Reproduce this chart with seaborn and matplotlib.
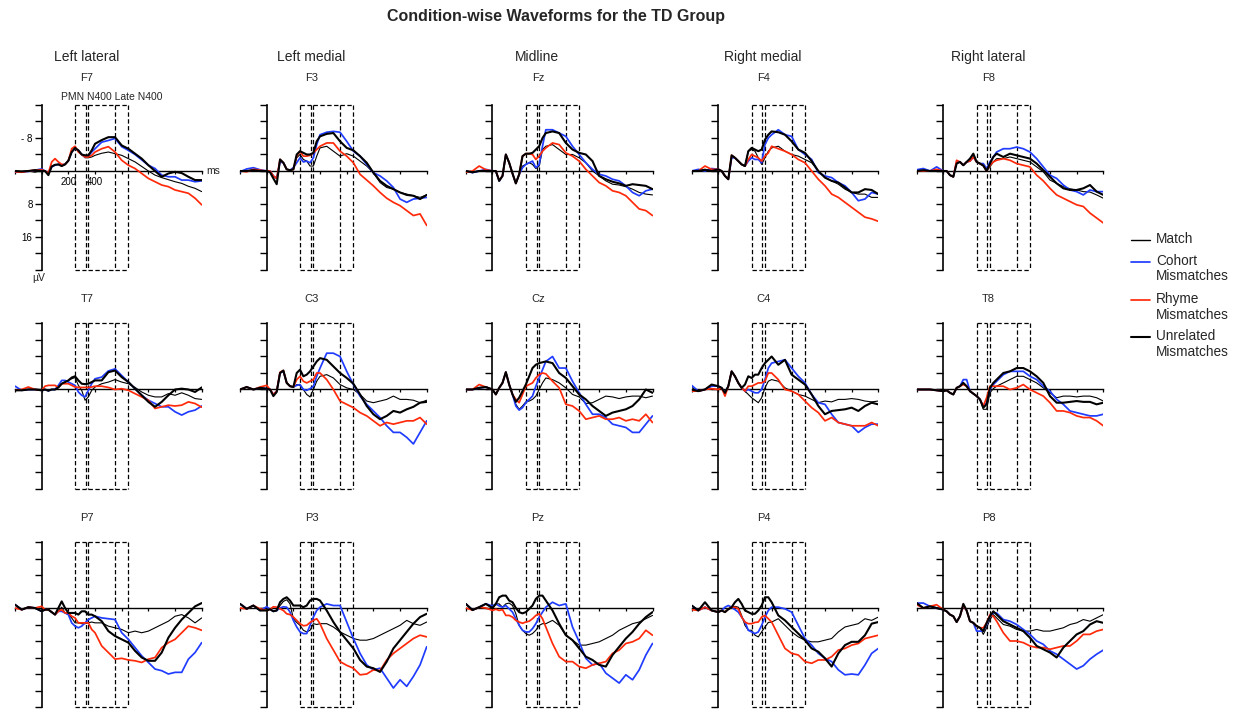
import matplotlib
matplotlib.use("Agg")
import matplotlib.pyplot as plt
import seaborn as sns
from matplotlib.lines import Line2D

# ---------------- data (µV, negative plotted upward) ----------------
TIMES = [-200, -150, -100, -50, 0,
         25, 50, 75, 100, 125, 150, 175, 200, 225, 250, 275, 300, 325, 350, 375, 400,
         450, 500, 550, 600, 650, 700, 750, 800, 850, 900, 950, 1000, 1050, 1100, 1150, 1200]

F7_match = [0.0, 0.2, 0.0, 0.3, -0.3, 0.0, 0.8, -1.1, -1.5, -1.6, -1.2, -1.6, -2.5, -4.6, -5.5, -5.0, -4.0, -3.2, -3.2, -3.4, -3.8, -4.3, -4.6, -4.2, -3.8, -3.0, -2.2, -1.1, 0.0, 1.0, 1.6, 2.1, 2.6, 3.0, 3.7, 4.2, 5.0]
F7_cohort = [0.3, 0.2, 0.1, -0.2, -0.5, 0.0, 0.5, -1.0, -1.4, -1.6, -1.5, -1.6, -2.5, -4.6, -5.5, -5.0, -4.0, -3.4, -3.6, -4.6, -5.4, -7.0, -7.4, -7.9, -5.9, -5.0, -4.0, -2.7, -1.4, -0.6, 1.0, 1.4, 1.4, 2.2, 2.2, 2.6, 2.4]
F7_rhyme = [0.2, 0.3, 0.0, -0.2, -0.3, 0.0, 0.5, -2.2, -3.0, -2.2, -1.6, -1.6, -2.5, -5.4, -6.0, -4.6, -4.0, -3.4, -3.4, -3.8, -4.6, -5.4, -5.9, -4.6, -2.6, -1.4, -0.6, 0.6, 1.8, 2.6, 3.4, 3.8, 4.6, 5.0, 5.4, 6.6, 8.2]
F7_unrel = [0.0, 0.1, 0.0, -0.2, 0.0, 0.0, 1.0, -1.1, -1.5, -1.6, -1.2, -1.6, -2.5, -4.6, -5.6, -5.0, -4.0, -3.8, -3.8, -5.0, -6.6, -7.5, -8.2, -8.2, -6.2, -5.4, -4.2, -3.0, -1.4, 0.0, 1.4, 0.6, 0.2, 0.5, 1.4, 2.2, 2.2]

F3_match = [0.0, 0.0, -0.3, 0.0, 0.0, 0.0, 1.2, 1.8, -2.6, -2.0, -0.4, -0.2, -0.4, -3.2, -4.0, -2.8, -2.4, -1.2, -1.2, -3.6, -5.6, -6.0, -4.8, -3.6, -4.2, -3.6, -2.4, -1.2, 0.4, 2.8, 4.0, 4.4, 5.2, 5.6, 6.0, 6.4, 5.8]
F3_cohort = [0.2, -0.5, -0.8, -0.3, 0.0, 0.0, 1.2, 1.8, -2.2, -2.0, -0.4, -0.2, -0.8, -2.0, -3.2, -2.2, -2.4, -2.0, -3.2, -6.4, -8.8, -9.4, -9.6, -9.4, -7.2, -4.8, -3.6, -1.6, 0.4, 1.2, 2.4, 4.0, 6.8, 7.6, 6.8, 6.6, 6.4]
F3_rhyme = [0.0, 0.2, -0.4, -0.2, 0.0, 0.0, 1.2, 1.8, -2.8, -2.0, -0.4, -0.2, -0.4, -3.6, -4.8, -3.6, -3.6, -3.8, -4.4, -5.2, -6.0, -6.8, -6.8, -4.8, -3.6, -2.0, 0.8, 2.2, 3.6, 5.2, 6.6, 7.6, 8.4, 9.6, 10.8, 10.4, 13.2]
F3_unrel = [0.0, 0.0, -0.2, 0.0, 0.0, 0.3, 1.8, 3.2, -2.8, -2.0, -0.4, -0.2, -0.4, -4.0, -4.8, -4.4, -4.0, -4.0, -4.4, -7.2, -8.4, -9.0, -9.2, -7.2, -5.6, -5.0, -3.6, -2.0, 0.4, 2.4, 3.6, 4.4, 5.2, 5.8, 6.0, 6.8, 5.8]

Fz_match = [0.0, 0.4, 0.0, 0.0, 0.0, 0.0, 2.4, 1.2, -4.0, -2.0, 0.6, 3.0, 0.8, -1.2, -1.6, -2.0, -1.6, -0.6, -1.2, -5.2, -6.0, -6.4, -5.2, -4.0, -4.0, -3.2, -2.0, 0.0, 1.2, 2.4, 3.2, 3.4, 3.8, 4.4, 5.2, 5.6, 5.8]
Fz_cohort = [0.0, 0.4, 0.0, -0.4, 0.0, 0.0, 2.4, 1.2, -4.0, -2.0, 0.6, 3.0, 0.8, -0.8, -1.6, -2.0, -2.4, -0.8, -1.6, -6.0, -10.0, -10.0, -9.2, -8.4, -6.0, -4.0, -2.0, -0.4, 0.8, 1.2, 2.0, 2.4, 3.6, 5.2, 6.0, 4.8, 4.4]
Fz_rhyme = [0.3, 0.0, -1.2, -0.3, 0.0, 0.0, 2.2, 1.2, -4.0, -2.0, 0.6, 3.0, 0.8, -3.6, -4.2, -4.2, -4.0, -2.8, -3.6, -4.8, -5.6, -6.8, -6.4, -4.4, -3.6, -2.4, -0.4, 1.2, 2.8, 3.6, 4.8, 5.2, 6.0, 7.6, 9.2, 9.6, 10.8]
Fz_unrel = [0.0, 0.3, 0.0, 0.0, 0.0, 0.0, 2.4, 1.2, -4.0, -2.0, 0.6, 3.0, 0.8, -3.6, -4.2, -4.2, -4.4, -5.2, -6.0, -8.0, -9.2, -9.6, -9.2, -6.8, -5.2, -4.4, -4.0, -2.4, 1.2, 2.0, 2.6, 3.0, 3.6, 3.2, 3.4, 3.6, 4.4]

F4_match = [0.0, 0.0, -0.4, 0.0, -0.4, 0.0, 1.2, 2.0, -3.6, -3.2, -2.4, -1.6, -1.2, -4.8, -5.2, -4.8, -3.2, -1.6, -3.2, -4.8, -5.6, -6.0, -4.8, -4.0, -3.6, -2.8, -2.0, 0.0, 1.6, 2.4, 3.2, 4.4, 5.2, 5.6, 5.6, 6.4, 6.4]
F4_cohort = [0.0, -0.4, 0.0, -0.6, -0.4, 0.0, 1.2, 2.0, -3.2, -3.2, -2.4, -1.6, -1.2, -2.4, -3.2, -2.8, -2.8, -2.0, -6.4, -8.0, -8.8, -10.0, -8.8, -8.4, -5.2, -4.0, -2.8, 0.4, 1.2, 1.6, 2.8, 3.6, 5.2, 7.2, 6.8, 5.2, 5.6]
F4_rhyme = [0.0, 0.0, -1.2, -0.4, -0.4, 0.0, 1.2, 2.0, -3.8, -3.2, -2.4, -1.6, -1.2, -2.8, -4.0, -3.6, -3.2, -2.4, -3.6, -4.4, -6.0, -5.4, -4.8, -4.0, -2.8, -2.0, 0.0, 2.0, 3.6, 5.6, 6.4, 7.6, 8.8, 10.0, 11.2, 11.6, 12.2]
F4_unrel = [0.0, 0.0, -0.3, 0.0, -0.4, 0.0, 1.2, 2.0, -3.8, -3.2, -2.4, -1.6, -1.2, -4.8, -5.6, -5.2, -4.8, -5.2, -7.6, -8.8, -9.6, -9.4, -8.8, -7.2, -5.2, -4.4, -2.4, 0.0, 1.6, 2.4, 2.8, 4.0, 5.2, 5.2, 4.4, 4.6, 5.6]

F8_match = [0.0, 0.0, 0.0, 0.0, 0.0, 0.0, 1.0, 1.4, -1.8, -2.2, -1.4, -2.2, -2.4, -3.4, -2.2, -1.8, -1.3, 0.0, -1.0, -2.2, -3.0, -3.0, -3.4, -3.0, -2.6, -2.2, -1.0, 0.2, 2.2, 3.0, 3.8, 4.3, 4.6, 5.0, 5.1, 5.8, 6.6]
F8_cohort = [-0.3, -0.6, 0.0, -1.0, 0.0, 0.0, 1.0, 1.4, -2.2, -2.2, -1.4, -2.2, -2.4, -3.4, -2.2, -1.8, -1.8, -0.6, -2.2, -3.4, -4.6, -5.4, -5.4, -5.8, -5.4, -4.6, -3.0, -1.0, 1.0, 1.8, 3.4, 4.6, 5.0, 5.8, 4.6, 5.0, 5.0]
F8_rhyme = [0.0, 0.0, 0.0, -0.4, 0.0, 0.0, 1.0, 1.4, -2.6, -2.2, -1.4, -2.2, -2.4, -3.4, -2.2, -1.8, -1.3, 0.0, -1.4, -2.2, -2.6, -3.0, -2.6, -1.8, -1.4, -1.0, 1.0, 2.4, 4.2, 5.8, 6.6, 7.4, 8.2, 8.6, 10.2, 11.4, 12.6]
F8_unrel = [0.0, -0.2, 0.0, 0.0, 0.0, 0.0, 1.0, 1.4, -1.8, -2.2, -1.4, -2.2, -3.0, -4.2, -2.2, -1.8, -1.3, 0.0, -1.8, -3.4, -4.2, -3.4, -4.2, -3.8, -3.4, -3.0, -1.8, -0.2, 1.4, 3.0, 4.2, 4.6, 4.6, 4.2, 3.4, 5.0, 5.8]

T7_match = [0.2, 0.2, 0.0, 0.0, 0.2, 0.0, 0.3, 0.0, 0.0, -0.5, -1.4, -1.8, -2.2, -2.6, -2.9, -1.0, 0.2, 2.6, 1.8, 0.2, -0.6, -1.4, -1.8, -2.4, -1.8, -1.4, -0.5, 0.6, 1.4, 1.8, 1.8, 1.0, 1.4, 0.8, 1.4, 2.2, 2.4]
T7_cohort = [-0.8, 0.2, 0.0, 0.0, 0.2, 0.0, 0.3, 0.0, 0.0, -1.0, -2.2, -2.2, -1.8, -1.4, -1.0, 0.6, 1.4, 1.8, 0.2, -1.4, -2.6, -3.0, -4.5, -5.0, -3.4, -1.8, -0.2, 1.4, 2.6, 3.4, 4.2, 4.2, 5.4, 6.2, 5.4, 5.0, 4.0]
T7_rhyme = [0.2, 0.0, -0.6, 0.0, 0.2, -0.8, -1.0, -1.0, -1.0, -0.5, -1.4, -1.4, -1.4, -1.0, -0.6, -0.5, -0.5, -0.5, -0.5, -0.6, -0.8, -0.8, -0.5, 0.0, -0.2, 0.2, 1.0, 1.8, 2.6, 4.6, 4.2, 3.8, 4.0, 3.8, 3.0, 3.4, 4.3]
T7_unrel = [0.2, 0.2, 0.0, 0.0, 0.2, 0.0, 0.3, 0.0, 0.0, -0.5, -1.4, -1.8, -2.2, -2.9, -3.2, -2.2, -1.4, -1.3, -1.4, -1.8, -2.2, -2.2, -4.2, -4.6, -3.0, -1.8, -0.2, 1.4, 3.0, 4.2, 3.0, 1.4, 0.0, -0.2, 0.0, 0.6, -0.5]

C3_match = [0.0, -0.6, 0.0, -0.4, -0.2, 0.0, 1.2, 0.4, -4.0, -4.4, -1.6, -0.8, -0.6, -1.2, -1.0, 0.0, 1.2, 1.8, 0.0, -2.0, -3.2, -3.6, -2.8, -1.2, -0.4, 0.0, 1.2, 2.8, 3.2, 2.8, 2.4, 1.6, 2.4, 2.4, 2.6, 3.2, 2.6]
C3_cohort = [0.0, -0.6, 0.0, -0.4, -0.2, 0.0, 1.2, 0.4, -4.0, -4.4, -1.6, -0.8, -0.6, -1.0, -1.2, 0.0, 0.2, -0.2, -0.8, -3.2, -5.2, -8.8, -8.8, -8.0, -4.4, -1.2, 1.6, 3.6, 5.2, 6.8, 8.8, 10.4, 10.4, 11.6, 13.2, 10.4, 7.6]
C3_rhyme = [0.0, -0.6, 0.0, -0.6, -1.0, 0.0, 1.2, 0.4, -4.2, -4.6, -1.6, -0.8, -0.6, -2.4, -3.2, -2.0, -1.6, -2.0, -2.4, -4.0, -4.0, -2.4, 0.0, 2.8, 3.6, 4.4, 5.6, 6.4, 7.6, 8.8, 8.0, 8.4, 8.0, 7.6, 7.6, 6.8, 8.4]
C3_unrel = [0.0, -0.6, 0.0, -0.4, -0.2, 0.0, 1.6, 0.6, -4.0, -4.6, -1.6, -0.8, -0.6, -4.0, -4.8, -3.2, -3.6, -4.4, -5.6, -6.8, -7.6, -7.2, -5.6, -4.0, -2.8, -1.4, 1.2, 4.0, 6.0, 7.2, 6.4, 5.2, 5.6, 4.8, 4.2, 3.2, 3.0]

Cz_match = [0.0, 0.0, -0.4, -0.6, 0.0, 1.2, -0.4, -1.6, -4.2, -1.2, 1.2, 3.6, 4.8, 4.0, 3.0, 2.8, 2.4, 1.6, 0.0, -1.6, -2.8, -2.4, -1.6, -0.4, 1.2, 1.8, 3.4, 3.2, 2.4, 1.6, 1.8, 2.2, 1.8, 1.6, 1.6, 2.0, 1.6]
Cz_cohort = [0.0, 0.0, -0.4, -0.6, 0.0, 1.2, -0.4, -1.6, -4.2, -1.2, 1.2, 4.0, 5.0, 4.4, 3.2, 2.4, 1.6, -0.8, -2.8, -4.8, -6.8, -8.0, -5.2, -5.2, -2.0, 0.8, 3.6, 6.0, 6.0, 6.8, 8.4, 8.8, 9.2, 10.4, 10.4, 8.4, 6.4]
Cz_rhyme = [0.0, 0.0, -1.2, -0.6, 0.0, 1.2, -0.4, -1.6, -4.2, -1.2, 1.2, 2.4, 3.2, 1.2, -0.8, -1.2, -1.6, -2.8, -3.6, -4.0, -3.8, -2.0, -0.4, 3.6, 4.0, 5.2, 7.2, 6.8, 6.4, 7.2, 7.2, 6.8, 7.6, 7.2, 7.6, 6.0, 8.0]
Cz_unrel = [0.0, 0.0, -0.4, -0.6, 0.0, 1.2, -0.4, -1.6, -4.2, -1.2, 1.2, 3.0, 2.0, 0.4, -1.2, -3.2, -5.2, -6.0, -6.4, -6.6, -6.8, -6.4, -4.0, -2.8, -0.8, 1.2, 2.4, 4.0, 5.2, 6.4, 5.6, 5.2, 4.8, 4.0, 2.4, 0.0, 0.8]

C4_match = [-0.5, 0.4, 0.0, -0.8, -0.8, -0.4, 0.8, -0.8, -4.4, -3.2, -1.6, -0.4, 0.4, 1.2, 2.0, 2.6, 3.2, 2.0, -0.4, -2.0, -2.4, -2.0, -0.4, 0.4, 1.2, 1.6, 2.4, 3.2, 2.8, 3.0, 2.4, 2.4, 2.2, 2.4, 2.8, 3.0, 2.8]
C4_cohort = [-1.0, 0.4, 0.0, -0.8, -0.8, -0.4, 0.8, -0.8, -4.4, -3.2, -1.6, -0.4, 0.4, 0.0, 0.4, 0.8, 0.8, 0.0, -2.4, -5.2, -6.4, -6.8, -7.2, -5.2, -3.2, -1.6, 1.2, 3.2, 3.6, 6.0, 8.0, 8.4, 8.8, 10.4, 9.2, 8.4, 8.4]
C4_rhyme = [0.4, 0.4, 0.0, -0.2, 0.0, -0.4, 1.6, -0.8, -4.4, -3.2, -1.6, -0.4, 0.4, -0.8, -0.8, -1.2, -1.6, -1.6, -2.0, -4.0, -4.0, -2.4, 0.0, 0.4, 1.2, 2.8, 4.4, 5.6, 7.6, 6.8, 8.0, 8.4, 8.8, 8.8, 8.8, 8.0, 8.8]
C4_unrel = [0.0, 0.4, 0.0, -1.2, -0.8, -0.4, 0.8, -0.8, -4.4, -3.2, -1.6, -0.4, -1.2, -3.2, -2.8, -3.6, -3.6, -5.2, -6.4, -7.2, -8.0, -6.0, -7.2, -3.6, -2.4, -1.2, 1.2, 4.0, 6.0, 5.2, 5.0, 4.8, 4.4, 5.2, 4.0, 3.2, 3.6]

T8_match = [0.0, 0.0, 0.0, 0.2, 0.4, 0.2, 0.8, 1.2, -0.4, -0.8, -1.6, -0.8, 0.4, 1.0, 1.6, 2.4, 4.8, 4.8, 0.8, -0.2, -0.8, -1.6, -2.4, -3.2, -3.2, -2.4, -1.6, -0.4, 0.8, 2.0, 1.6, 1.6, 1.8, 1.6, 1.6, 2.0, 2.8]
T8_cohort = [0.0, 0.0, 0.0, 0.2, 0.4, 0.2, 0.8, 1.2, -0.4, -0.8, -2.4, -2.4, 0.4, 1.0, 1.6, 2.4, 4.0, 3.2, 0.0, -1.2, -2.0, -3.6, -4.4, -4.4, -4.4, -3.2, -2.4, -0.8, 0.4, 2.4, 3.6, 5.2, 5.6, 6.0, 6.4, 6.4, 6.0]
T8_rhyme = [0.0, 0.0, 0.0, 0.2, 0.4, 0.2, 0.8, 1.2, -0.4, -0.8, -1.2, -0.8, 0.4, 1.0, 1.6, 2.4, 4.0, 2.0, -0.8, -0.8, -0.8, -0.8, 0.0, -0.4, -1.2, 0.0, 0.8, 1.6, 3.2, 5.2, 5.2, 5.6, 6.4, 6.8, 6.8, 7.6, 8.8]
T8_unrel = [0.0, 0.0, 0.0, 0.2, 0.4, 0.2, 0.8, 1.2, -0.4, -0.8, -1.6, -0.8, 0.4, 1.0, 1.6, 2.4, 4.4, 3.6, -0.4, -1.6, -2.4, -4.0, -4.4, -5.2, -5.2, -4.4, -3.2, -1.6, 1.6, 3.2, 3.2, 3.0, 2.8, 3.0, 3.0, 3.6, 3.2]

P7_match = [-0.8, 0.4, -0.2, 0.0, 0.8, 0.4, 0.4, 1.0, 1.6, 0.8, -0.2, 1.2, 1.6, 2.4, 3.6, 3.6, 3.8, 3.8, 3.6, 3.4, 3.6, 3.6, 4.4, 4.8, 5.2, 6.0, 5.6, 6.0, 5.6, 4.8, 4.0, 3.2, 2.0, 1.6, 2.4, 3.6, 2.4]
P7_cohort = [-0.8, 0.4, -0.2, 0.0, 0.8, 0.4, 0.4, 1.0, 1.6, 0.8, 0.8, 1.2, 1.6, 3.6, 4.4, 4.8, 4.4, 3.6, 2.8, 2.4, 2.0, 2.4, 2.6, 2.8, 6.0, 7.6, 9.6, 11.6, 13.2, 14.8, 15.2, 16.0, 15.6, 15.6, 12.4, 10.8, 8.4]
P7_rhyme = [0.0, 0.4, -0.2, 0.0, -0.4, 0.4, 0.4, 1.0, 1.6, 0.8, 0.4, 1.2, 1.2, 2.0, 2.4, 3.6, 3.6, 3.6, 3.6, 5.2, 6.0, 9.2, 10.8, 12.4, 12.2, 12.6, 12.8, 13.2, 12.4, 12.0, 9.6, 8.4, 7.6, 6.0, 4.4, 4.8, 5.4]
P7_unrel = [-0.8, 0.4, -0.2, 0.0, 0.8, 0.4, 0.4, 1.0, 1.6, 0.0, -1.6, 0.0, 1.2, 1.2, 1.2, 1.6, 0.8, 0.8, 1.6, 1.6, 2.0, 3.2, 5.6, 6.8, 7.6, 8.4, 10.4, 12.0, 12.8, 12.8, 10.8, 7.2, 4.8, 2.8, 1.2, -0.4, -1.2]

P3_match = [-1.0, 0.2, -0.6, 0.6, 0.6, 0.3, 0.8, 0.6, -0.6, -1.6, -2.0, -1.0, 2.6, 3.5, 4.2, 5.4, 5.8, 5.4, 3.8, 4.0, 3.8, 3.8, 4.6, 5.8, 6.6, 7.4, 7.8, 7.8, 7.4, 6.6, 5.8, 5.0, 4.2, 3.0, 3.8, 4.2, 3.4]
P3_cohort = [-1.0, 0.2, -0.6, 0.6, -0.3, 0.3, 0.8, 0.6, 0.0, -0.3, -0.2, 1.0, 3.0, 4.6, 5.8, 6.2, 6.2, 4.2, 2.2, 0.6, -0.2, -1.0, -0.6, -0.6, 3.4, 7.4, 11.0, 13.8, 15.0, 14.6, 17.0, 19.4, 17.4, 19.0, 16.6, 13.8, 9.4]
P3_rhyme = [0.0, 0.2, -0.6, 0.2, 0.6, 0.3, -0.3, -0.2, 0.2, 0.6, 1.4, 1.6, 2.2, 3.0, 3.8, 4.3, 4.2, 3.5, 3.0, 2.6, 3.8, 7.4, 10.2, 13.0, 13.9, 14.6, 16.2, 16.0, 15.0, 15.2, 12.6, 11.0, 9.8, 8.6, 7.4, 6.6, 7.0]
P3_unrel = [-1.0, 0.2, -0.6, 0.6, 0.6, 0.3, 0.8, 0.6, -1.4, -2.2, -2.6, -1.8, -0.6, -0.6, -0.6, -0.2, -0.6, -1.8, -2.2, -2.2, -1.8, 0.6, 3.4, 5.8, 7.8, 9.8, 12.6, 14.2, 14.6, 15.5, 13.0, 9.8, 7.8, 5.8, 3.8, 2.2, 1.4]

Pz_match = [-1.0, 0.5, -0.2, -1.0, 0.0, -1.0, -1.0, -0.2, -1.0, -1.2, -0.6, 1.4, 4.2, 5.4, 6.2, 6.6, 6.2, 5.4, 4.2, 3.8, 3.8, 3.0, 4.2, 6.6, 7.8, 9.0, 9.0, 8.6, 8.2, 7.4, 6.6, 5.4, 4.6, 3.8, 3.4, 2.6, 1.8]
Pz_cohort = [-1.0, 0.5, -0.2, -1.0, -0.5, -1.0, -0.5, -0.2, -0.6, 0.2, 1.0, 2.6, 4.2, 5.4, 5.8, 5.8, 5.0, 3.8, 2.2, 1.0, -0.2, -1.4, -0.6, -1.0, 4.6, 8.2, 12.2, 13.8, 13.4, 15.8, 17.0, 18.2, 16.2, 17.4, 15.0, 11.4, 8.6]
Pz_rhyme = [0.0, 0.5, -0.2, 0.0, 0.6, 0.3, 0.6, 0.4, 1.8, 1.8, 2.2, 3.0, 3.4, 3.7, 3.4, 3.2, 2.6, 1.8, 1.4, 2.6, 4.6, 8.6, 11.8, 13.0, 13.0, 14.2, 14.6, 13.8, 13.4, 13.0, 11.0, 10.2, 8.6, 8.2, 7.4, 5.4, 6.6]
Pz_unrel = [-1.0, 0.5, -0.2, -1.0, 0.0, -1.0, -2.6, -3.0, -3.0, -1.8, -1.4, 0.0, 1.0, 1.3, 1.0, 0.2, -0.6, -2.2, -3.0, -3.0, -1.8, 0.6, 3.8, 6.6, 7.8, 9.8, 11.8, 12.6, 13.8, 14.2, 11.4, 9.4, 7.4, 5.8, 3.8, 2.2, 1.0]

P4_match = [-0.6, 0.6, -0.2, 0.6, 1.0, 0.6, 1.0, 0.3, -0.2, -0.4, -0.2, 1.8, 4.2, 5.4, 5.4, 6.6, 7.0, 5.8, 4.6, 3.5, 3.4, 2.6, 4.2, 5.8, 7.0, 7.8, 8.2, 8.2, 7.8, 7.4, 5.8, 4.6, 4.2, 3.8, 2.6, 3.0, 2.2]
P4_cohort = [-0.6, 0.6, -0.2, 0.6, 1.0, 0.6, -0.2, -0.6, -0.2, 0.4, 1.0, 2.2, 3.4, 5.4, 5.8, 6.2, 5.8, 4.2, 2.2, 0.6, -0.2, -0.2, 0.2, 1.0, 4.2, 7.4, 9.0, 11.0, 12.2, 13.0, 15.0, 16.2, 16.0, 16.2, 13.8, 11.0, 9.8]
P4_rhyme = [0.4, 0.6, -0.2, 0.6, 1.0, 0.6, 1.0, 0.3, -0.2, -0.2, 0.2, 2.2, 3.4, 3.8, 3.8, 3.5, 3.4, 2.2, 1.8, 2.6, 3.4, 6.6, 9.8, 11.0, 11.4, 13.0, 13.4, 12.6, 12.6, 11.8, 10.2, 9.8, 9.0, 8.6, 7.4, 7.0, 6.6]
P4_unrel = [-0.6, 0.6, -1.4, 0.6, 1.0, 0.6, 1.0, 0.3, -0.2, -1.4, -2.2, -1.0, 0.6, 1.0, 1.4, 1.4, 0.6, -0.6, -2.6, -2.6, -1.4, 1.8, 3.0, 4.6, 6.2, 7.8, 9.8, 10.6, 12.2, 14.2, 11.0, 9.0, 8.2, 8.2, 6.6, 3.8, 3.4]

P8_match = [-1.2, 0.0, -0.4, 0.0, 0.4, 0.8, 1.6, 2.0, 3.4, 2.0, -0.6, 0.6, 3.2, 3.6, 4.4, 4.8, 6.4, 4.8, 2.8, 1.6, 2.4, 4.0, 4.4, 5.2, 5.6, 5.6, 5.2, 5.6, 5.6, 5.2, 4.8, 4.0, 3.6, 2.8, 3.2, 2.4, 1.6]
P8_cohort = [-1.2, -1.2, -0.4, 0.0, 0.4, 0.8, 1.6, 2.0, 3.4, 2.0, -0.6, 0.6, 3.2, 3.6, 5.6, 5.6, 5.6, 4.0, 2.0, 1.2, 1.2, 2.8, 3.2, 4.0, 5.2, 6.4, 8.0, 8.8, 10.4, 11.2, 12.4, 13.6, 14.8, 14.0, 12.4, 11.2, 10.2]
P8_rhyme = [-0.8, 0.0, -0.4, -0.8, 0.4, 0.8, 1.6, 2.0, 3.4, 2.0, -0.6, 0.6, 3.2, 3.6, 4.4, 4.8, 4.8, 3.6, 1.6, 2.0, 3.2, 6.0, 8.0, 8.0, 8.4, 9.2, 9.6, 9.6, 10.0, 9.6, 9.2, 9.2, 8.0, 6.4, 6.4, 5.6, 5.2]
P8_unrel = [-1.2, 0.0, -0.4, 0.0, 0.4, 0.8, 1.6, 2.0, 3.4, 2.0, -1.0, 0.6, 3.2, 3.6, 4.4, 4.8, 5.6, 3.6, 2.0, 0.8, 1.6, 3.2, 4.0, 4.8, 5.6, 7.2, 9.2, 10.0, 10.8, 12.0, 9.6, 8.0, 6.4, 5.6, 4.0, 3.2, 3.6]

COLUMN_TITLES = ["Left lateral", "Left medial", "Midline", "Right medial", "Right lateral"]
ELECTRODES = [["F7", "F3", "Fz", "F4", "F8"],
              ["T7", "C3", "Cz", "C4", "T8"],
              ["P7", "P3", "Pz", "P4", "P8"]]
CONDITIONS = ["Match", "Cohort\nMismatches", "Rhyme\nMismatches", "Unrelated\nMismatches"]
WINDOWS = [(250, 330), (350, 550), (550, 650)]
WINDOW_LABEL = "PMN N400 Late N400"

SERIES = {
    "F7": [F7_match, F7_cohort, F7_rhyme, F7_unrel],
    "F3": [F3_match, F3_cohort, F3_rhyme, F3_unrel],
    "Fz": [Fz_match, Fz_cohort, Fz_rhyme, Fz_unrel],
    "F4": [F4_match, F4_cohort, F4_rhyme, F4_unrel],
    "F8": [F8_match, F8_cohort, F8_rhyme, F8_unrel],
    "T7": [T7_match, T7_cohort, T7_rhyme, T7_unrel],
    "C3": [C3_match, C3_cohort, C3_rhyme, C3_unrel],
    "Cz": [Cz_match, Cz_cohort, Cz_rhyme, Cz_unrel],
    "C4": [C4_match, C4_cohort, C4_rhyme, C4_unrel],
    "T8": [T8_match, T8_cohort, T8_rhyme, T8_unrel],
    "P7": [P7_match, P7_cohort, P7_rhyme, P7_unrel],
    "P3": [P3_match, P3_cohort, P3_rhyme, P3_unrel],
    "Pz": [Pz_match, Pz_cohort, Pz_rhyme, Pz_unrel],
    "P4": [P4_match, P4_cohort, P4_rhyme, P4_unrel],
    "P8": [P8_match, P8_cohort, P8_rhyme, P8_unrel],
}

# ---------------- style ----------------
COLORS = ["#000000", "#1f3cff", "#ff2a0a", "#000000"]
WIDTHS = [0.8, 1.25, 1.25, 1.5]
DASH = (0, (3.5, 2.0))

sns.set_style("white")
plt.rcParams["font.family"] = ["Liberation Sans", "DejaVu Sans"]

W, H = 1246, 710
fig = plt.figure(figsize=(W / 100, H / 100), dpi=100)

YAXIS_X = [41.7, 266.7, 492.5, 718.3, 943.3]      # pixel x of the time-zero axis
ROW_ZERO = [171.0, 389.5, 608.0]                  # pixel y of the 0 µV line
PX_PER_MS = 26.67 / 200.0
PX_PER_UV = 66.0 / 16.0
LABEL_OFFSETS = [19.5, 17.5, 17.5]
Y_TOP, Y_BOTTOM = -16, 24

edges = sorted({e for win in WINDOWS for e in win})

for r, row in enumerate(ELECTRODES):
    top_px = ROW_ZERO[r] - 16 * PX_PER_UV
    height_px = 40 * PX_PER_UV
    for c, el in enumerate(row):
        left_px = YAXIS_X[c] - 200 * PX_PER_MS
        width_px = 1400 * PX_PER_MS
        ax = fig.add_axes([left_px / W, 1 - (top_px + height_px) / H, width_px / W, height_px / H])
        ax.set_facecolor("none")

        # analysis windows (dashed boxes), each edge drawn once
        ax.vlines(edges, Y_TOP, Y_BOTTOM, colors="black", linewidth=0.9, linestyles=[DASH],
                  zorder=1, clip_on=False)
        for (x0, x1) in WINDOWS:
            ax.hlines([Y_TOP, Y_BOTTOM], x0, x1, colors="black", linewidth=0.9,
                      linestyles=[DASH], zorder=1, clip_on=False)

        for k, vals in enumerate(SERIES[el]):
            sns.lineplot(x=TIMES, y=vals, color=COLORS[k], linewidth=WIDTHS[k], ax=ax,
                         legend=False, zorder=3 + k)

        ax.set_xlim(-200, 1200)
        ax.set_ylim(Y_BOTTOM, Y_TOP)
        ax.set_xlabel("")
        ax.set_ylabel("")
        for s in ["top", "right"]:
            ax.spines[s].set_visible(False)
        ax.spines["left"].set_position(("data", 0))
        ax.spines["bottom"].set_position(("data", 0))
        ax.spines["left"].set_linewidth(1.2)
        ax.spines["bottom"].set_linewidth(1.0)
        ax.spines["left"].set_color("black")
        ax.spines["bottom"].set_color("black")

        ax.set_yticks(list(range(-16, 25, 4)))
        ax.set_xticks(list(range(-200, 1201, 200)))
        ax.tick_params(axis="y", direction="out", length=5, width=1.0, pad=1.5,
                       labelsize=7, colors="black", left=True)
        ax.tick_params(axis="x", direction="out", length=2.5, width=0.9, pad=1.5,
                       labelsize=7, colors="black", bottom=True)
        if r == 0 and c == 0:
            ax.set_yticklabels(["", "", "- 8", "", "", "", "8", "", "16", "", ""])
            ax.set_xticklabels(["", "", "200", "400", "", "", "", ""])
            ax.annotate("ms", xy=(1200, 0), xytext=(3, 0), textcoords="offset points",
                        ha="left", va="center", fontsize=7.5)
            ax.annotate("µV", xy=(-20, 24), xytext=(0, -2.5), textcoords="offset points",
                        ha="center", va="top", fontsize=7.5, annotation_clip=False)
            ax.annotate(WINDOW_LABEL, xy=(527, -16), xytext=(0, 2.5), textcoords="offset points",
                        ha="center", va="bottom", fontsize=7.5, annotation_clip=False)
        else:
            ax.set_yticklabels([])
            ax.set_xticklabels([])

        ax.annotate(el, xy=(340, -16), xytext=(0, LABEL_OFFSETS[r]), textcoords="offset points",
                    ha="center", va="center", fontsize=8, annotation_clip=False)
        if r == 0:
            ax.annotate(COLUMN_TITLES[c], xy=(335, -16), xytext=(0, 34.3),
                        textcoords="offset points", ha="center", va="center", fontsize=10,
                        annotation_clip=False)

fig.text(556 / W, 1 - 17 / H, "Condition-wise Waveforms for the TD Group",
         ha="center", va="center", fontsize=11.5, fontweight="bold")

# legend
LEG_LINE_Y = [240, 261.5, 300, 337.5]
for k, lab in enumerate(CONDITIONS):
    y = 1 - LEG_LINE_Y[k] / H
    fig.add_artist(Line2D([1131 / W, 1150 / W], [y, y], color=COLORS[k],
                          linewidth=WIDTHS[k] if k != 0 else 1.0, transform=fig.transFigure))
    fig.text(1156 / W, 1 - (LEG_LINE_Y[k] - 8.0) / H, lab, ha="left", va="top", fontsize=9.8,
             linespacing=1.15)

fig.savefig("out.png", dpi=100)
